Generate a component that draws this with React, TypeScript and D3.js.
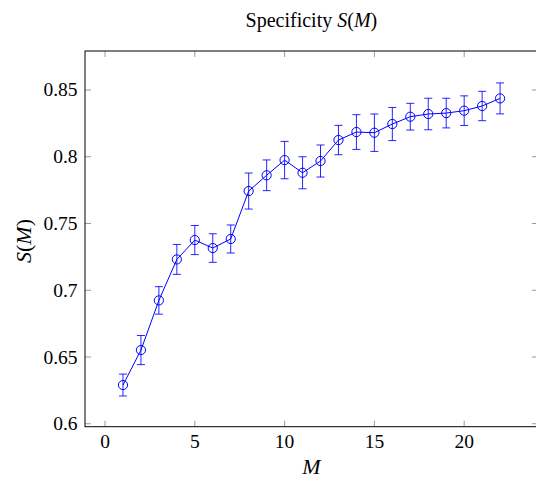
import React from "react";
import * as d3 from "d3";

const mValues = [1,2,3,4,5,6,7,8,9,10,11,12,13,14,15,16,17,18,19,20,21,22];
const sValues = [0.629,0.6552,0.6924,0.7231,0.7376,0.7316,0.7384,0.7743,0.7861,0.7975,0.788,0.7968,0.8125,0.8185,0.818,0.8245,0.830,0.832,0.8327,0.8345,0.838,0.8437];
const sErrors = [0.0082,0.0109,0.0103,0.0112,0.0109,0.0107,0.0105,0.0135,0.0115,0.014,0.012,0.012,0.011,0.013,0.014,0.0124,0.010,0.0118,0.0111,0.0111,0.011,0.0116];
const xTicks = [0,5,10,15,20];
const yTicks = [0.6,0.65,0.7,0.75,0.8,0.85];
const yTickLabels = ["0.6","0.65","0.7","0.75","0.8","0.85"];

export default function App() {
  const W = 536, H = 478;
  const L = 85, R = 537.8, T = 51, B = 426.7;
  const x = d3.scaleLinear().domain([-1.115, 24.1]).range([L, R]);
  const y = d3.scaleLinear().domain([0.5978, 0.8792]).range([B, T]);
  const blue = "#0000ff";
  const tickColor = "#9a9a9a";
  const tl = 6;
  const fs = { fontFamily: "Liberation Serif, DejaVu Serif, serif" } as React.CSSProperties;
  const line = d3.line<number>().x((_, i) => x(mValues[i])).y(d => y(d));
  return (
    <svg width={W} height={H} style={{ position: "absolute", left: 0, top: 0, background: "#fff" }}>
      <rect x={0} y={0} width={W} height={H} fill="#fff" />
      {xTicks.map(t => (
        <g key={"xt" + t}>
          <line x1={x(t)} x2={x(t)} y1={B} y2={B - tl} stroke={tickColor} strokeWidth={1} />
          <line x1={x(t)} x2={x(t)} y1={T} y2={T + tl} stroke={tickColor} strokeWidth={1} />
          <text x={x(t)} y={448} textAnchor="middle" style={fs} fontSize={19.5}>{t}</text>
        </g>
      ))}
      {yTicks.map((t, i) => (
        <g key={"yt" + t}>
          <line x1={L} x2={L + tl} y1={y(t)} y2={y(t)} stroke={tickColor} strokeWidth={1} />
          <line x1={R} x2={R - tl} y1={y(t)} y2={y(t)} stroke={tickColor} strokeWidth={1} />
          <text x={77.5} y={y(t) + 6.5} textAnchor="end" style={fs} fontSize={19.5}>{yTickLabels[i]}</text>
        </g>
      ))}
      <rect x={L} y={T} width={R - L} height={B - T} fill="none" stroke="#000" strokeWidth={1} />
      <path d={line(sValues) || ""} fill="none" stroke={blue} strokeWidth={1} />
      {sValues.map((v, i) => {
        const cx = x(mValues[i]);
        const e = sErrors[i];
        return (
          <g key={"p" + i} stroke={blue} strokeWidth={1} fill="none">
            <line x1={cx} x2={cx} y1={y(v - e)} y2={y(v + e)} strokeOpacity={0.85} />
            <line x1={cx - 4} x2={cx + 4} y1={y(v + e)} y2={y(v + e)} strokeOpacity={0.85} />
            <line x1={cx - 4} x2={cx + 4} y1={y(v - e)} y2={y(v - e)} strokeOpacity={0.85} />
            <circle cx={cx} cy={y(v)} r={4.6} />
          </g>
        );
      })}
      <text x={(L + R) / 2} y={27} textAnchor="middle" style={fs} fontSize={20}>
        Specificity <tspan fontStyle="italic">S</tspan>(<tspan fontStyle="italic">M</tspan>)
      </text>
      <text x={(L + R) / 2} y={474} textAnchor="middle" style={fs} fontSize={22} fontStyle="italic">M</text>
      <text transform={`translate(31, 241) rotate(-90)`} textAnchor="middle" style={fs} fontSize={22}>
        <tspan fontStyle="italic">S</tspan>(<tspan fontStyle="italic">M</tspan>)
      </text>
    </svg>
  );
}
